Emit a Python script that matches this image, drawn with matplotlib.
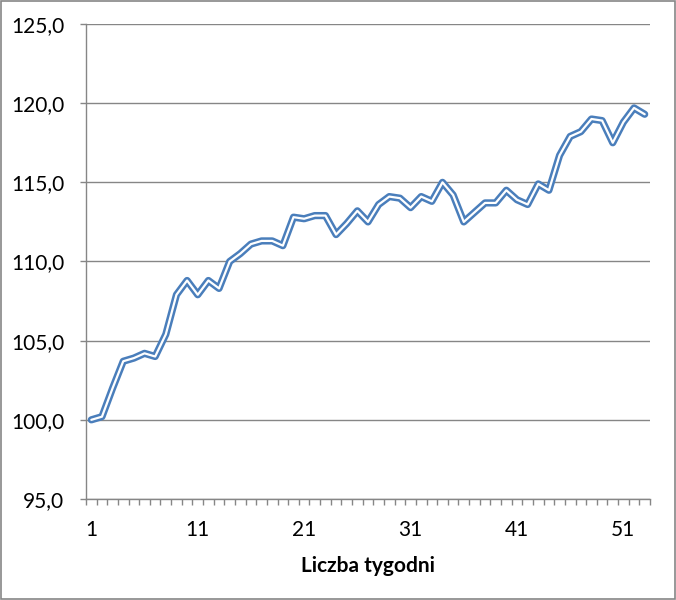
import numpy as np
import matplotlib.pyplot as plt
from matplotlib.ticker import FuncFormatter

# dane
tygodnie = np.arange(1, 54)
wartosci = [100.0, 100.2, 102.0, 103.7, 103.9, 104.2, 104.0, 105.4, 107.9, 108.8,
            107.9, 108.8, 108.3, 110.0, 110.5, 111.1, 111.3, 111.3, 111.0, 112.8,
            112.7, 112.9, 112.9, 111.7, 112.4, 113.2, 112.5, 113.6, 114.1, 114.0,
            113.4, 114.1, 113.8, 115.0, 114.2, 112.5, 113.1, 113.7, 113.7, 114.5,
            113.9, 113.6, 114.9, 114.5, 116.7, 117.9, 118.2, 119.0, 118.9, 117.5,
            118.8, 119.7, 119.3]
y_ticks = [95, 100, 105, 110, 115, 120, 125]
x_labels = [1, 11, 21, 31, 41, 51]

plt.rcParams['font.family'] = ['Lato', 'DejaVu Sans']
szary = '#868686'
niebieski = '#4A7EBB'

fig = plt.figure(figsize=(6.76, 6.0), dpi=100)
ax = fig.add_axes([86/676, 1 - 499/600, 564/676, 475/600])

# podwojna linia (jak w Excelu)
ax.plot(tygodnie, wartosci, color=niebieski, lw=5.2, solid_joinstyle='round',
        solid_capstyle='round', zorder=3)
ax.plot(tygodnie, wartosci, color='white', lw=1.6, solid_joinstyle='round',
        solid_capstyle='round', zorder=4)

ax.set_xlim(0.5, 53.5)
ax.set_ylim(95, 125)
ax.set_yticks(y_ticks)
ax.yaxis.set_major_formatter(FuncFormatter(lambda v, p: f"{v:.1f}".replace('.', ',')))
ax.set_xticks(x_labels)
ax.set_xticks(np.arange(0.5, 54.0, 1.0), minor=True)
ax.tick_params(axis='x', which='major', length=0, pad=15, labelsize=15)
ax.tick_params(axis='x', which='minor', length=4.5, color=szary, width=1)
ax.tick_params(axis='y', length=4.5, color=szary, width=1, pad=11, labelsize=15)

ax.grid(axis='y', color=szary, lw=1)
ax.set_axisbelow(True)
for s in ['top', 'right']:
    ax.spines[s].set_visible(False)
for s in ['left', 'bottom']:
    ax.spines[s].set_color(szary)
    ax.spines[s].set_linewidth(1)

ax.set_xlabel("Liczba tygodni", fontsize=15, fontweight='bold', labelpad=12)

# ramka wokol wykresu
fig.patches.append(plt.Rectangle((0.001, 0.001), 0.998, 0.997, transform=fig.transFigure,
                                 fill=False, edgecolor=szary, lw=1.2))

fig.savefig("out.png", dpi=100)
